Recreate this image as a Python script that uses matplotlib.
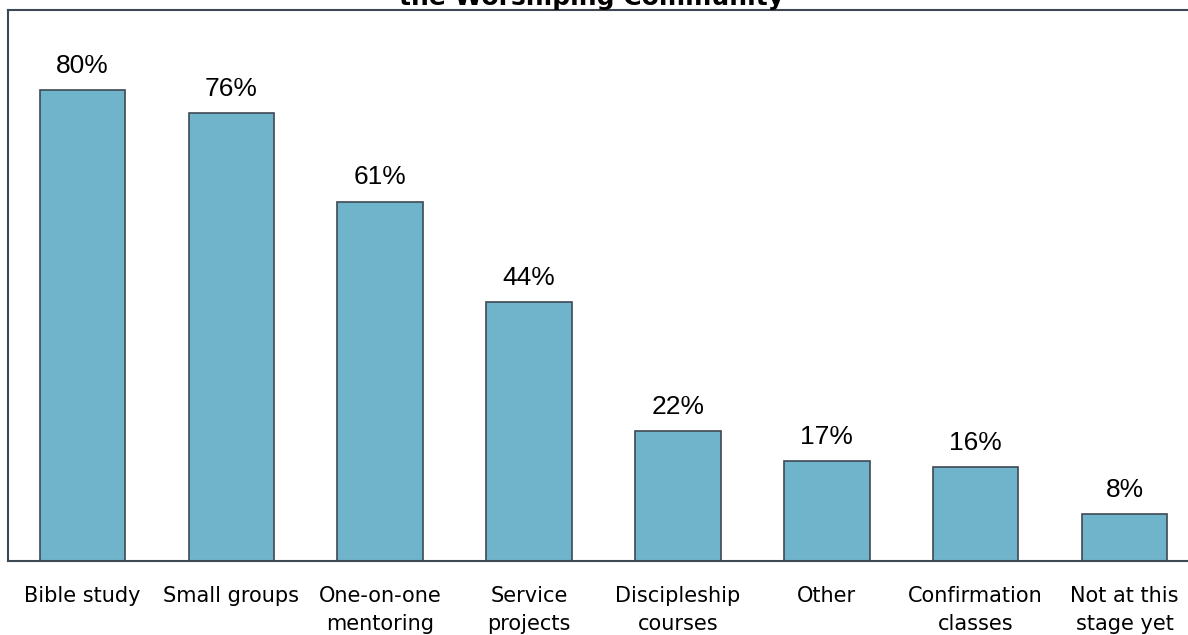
import matplotlib
matplotlib.use("Agg")
import matplotlib.pyplot as plt

categories = ["Bible study", "Small groups", "One-on-one\nmentoring", "Service\nprojects",
              "Discipleship\ncourses", "Other", "Confirmation\nclasses", "Not at this\nstage yet"]
values = [80, 76, 61, 44, 22, 17, 16, 8]
title = "the Worshiping Community"

W, H = 1188, 635
fig = plt.figure(figsize=(W / 100, H / 100), dpi=100)
left_px, right_px, top_px, bottom_px = 8, 1199, 9.5, 561
ax = fig.add_axes([left_px / W, 1 - bottom_px / H, (right_px - left_px) / W, (bottom_px - top_px) / H])

bar_color = "#70B4CB"
edge_color = "#3E4853"
x = list(range(len(categories)))
bars = ax.bar(x, values, width=0.574, color=bar_color, edgecolor=edge_color, linewidth=1.2)

ax.set_xlim(-0.5, 7.5)
ax.set_ylim(0, 93.6)

for xi, v in zip(x, values):
    ax.annotate(f"{v}%", (xi, v), xytext=(0, 12.3), textcoords="offset points",
                ha="center", va="baseline", fontsize=19, family="Liberation Sans", color="black")

ax.set_xticks(x)
ax.set_xticklabels(categories, fontsize=15, family="DejaVu Sans", linespacing=1.48)
ax.tick_params(axis="x", length=0, pad=18)
ax.set_yticks([])

for s in ax.spines.values():
    s.set_color("#3E4853")
    s.set_linewidth(1.5)

fig.text(0.4975, 1 - 4.5 / H, title, ha="center", va="baseline", fontsize=18,
         fontweight="bold", family="DejaVu Sans")

fig.savefig("out.png", dpi=100)
